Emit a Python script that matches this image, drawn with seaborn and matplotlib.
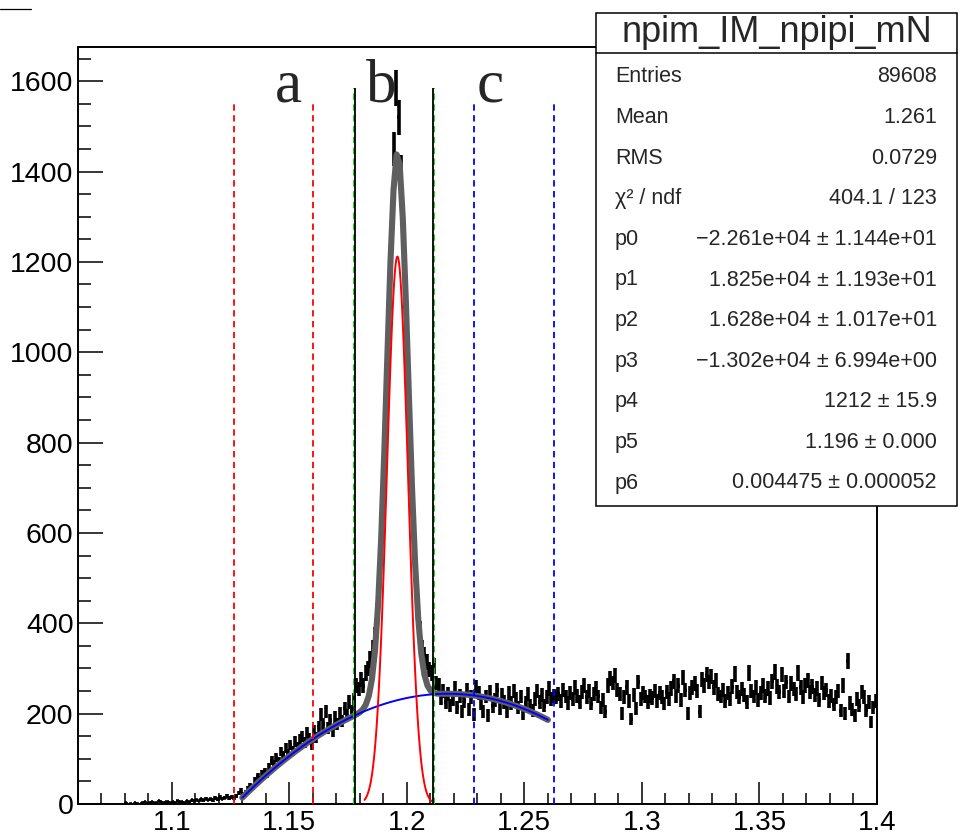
import matplotlib
matplotlib.use("Agg")
import matplotlib.pyplot as plt
from matplotlib.lines import Line2D
from matplotlib.patches import Rectangle
from matplotlib.ticker import MultipleLocator, FuncFormatter
import numpy as np
import seaborn as sns

# histogram binning: 1 MeV bins from 1.06 to 1.40
x_lo, x_hi, bin_w = 1.06, 1.40, 0.001

# bin contents, in order of increasing mass
counts_empty = [0, 0, 0, 0, 0, 0, 0, 0, 0, 0,
                0, 0, 0, 0, 0, 0, 0, 0, 0, 0]                      # 1.060-1.079
counts_low = [2, 0, 1, 0, 3, 1, 0, 2, 4, 1,
              2, 5, 3, 2, 6, 4, 3, 5, 4, 2,
              5, 3, 6, 4, 5, 3, 7, 5, 8, 6,
              9, 7, 10, 8, 12, 9, 11, 8, 13, 10,
              15, 12, 14, 17, 13, 16, 12]                           # 1.080-1.126
counts_rise = [18, 24, 30, 22, 26, 34, 40, 38, 52, 60,
               55, 68, 72, 66, 82, 96, 88, 102, 94, 116,
               108, 124, 112, 130, 118, 138, 126, 144, 150, 136,
               158, 146, 130, 162, 148, 170, 198, 176, 205, 168,
               186, 160, 192, 178, 200, 184, 212, 196, 226, 205]    # 1.127-1.176
counts_peak = [230, 262, 255, 275, 262, 290, 300, 320, 345, 372,
               425, 520, 650, 795, 960, 1125, 1290, 1450, 1585, 1520,
               1400, 1280, 1130, 970, 810, 665, 545, 450, 385, 345,
               330, 315, 298, 290, 305, 268]                        # 1.177-1.212
counts_side = [262, 235, 250, 226, 244, 218, 232, 256, 214, 240,
               205, 228, 252, 210, 236, 198, 258, 246, 222, 204,
               238, 196, 248, 216, 230, 252, 212, 242, 226, 204,
               246, 224, 250, 232, 214, 238, 200, 224, 244, 218,
               206, 232, 250, 226, 242, 218, 236, 256, 232, 240]    # 1.213-1.262
counts_tail = [236, 244, 228, 252, 238, 224, 246, 232, 258, 240,
               226, 248, 262, 236, 250, 222, 244, 256, 238, 214,
               230, 204, 262, 278, 268, 284, 252, 244, 200, 236,
               258, 228, 188, 242, 212, 270, 232, 246, 238, 226,
               240, 234, 250, 228, 246, 236, 222, 248, 232, 256,
               272, 240, 262, 230, 280, 252, 200, 246, 258, 266,
               250, 204, 276, 262, 286, 270, 282, 258, 274, 244,
               238, 252, 228, 246, 232, 260, 288, 248, 236, 254,
               242, 226, 290, 250, 238, 258, 230, 246, 262, 240,
               256, 234, 272, 292, 260, 248, 286, 250, 270, 238,
               266, 254, 244, 290, 258, 236, 262, 274, 248, 260,
               242, 256, 230, 268, 246, 252, 228, 240, 220, 236,
               250, 206, 262, 200, 316, 224, 210, 196, 232, 218,
               248, 236, 208, 226, 182, 214, 228]                   # 1.263-1.399

# fit: pol3 + gaus, parameters from the stat box
fit_pars = [-2.261e4, 1.825e4, 1.628e4, -1.302e4, 1212.0, 1.196, 0.004475]
fit_range = (1.13, 1.26)
gaus_range = (1.182, 1.2105)

# selection windows a / b / c
red_cuts = [1.1265, 1.16]
green_cuts = [1.1775, 1.2115]
black_cuts = [1.178, 1.211]
blue_cuts = [1.2285, 1.2627]
window_labels = ["a", "b", "c"]
window_label_x = [1.1496, 1.189, 1.2353]

stat_title = "npim_IM_npipi_mN"
stat_labels = ["Entries", "Mean", "RMS", "χ² / ndf", "p0", "p1", "p2",
               "p3", "p4", "p5", "p6"]
stat_values = ["89608", "1.261", "0.0729", "404.1 / 123",
               "\u22122.261e+04 ± 1.144e+01", "1.825e+04 ± 1.193e+01",
               "1.628e+04 ± 1.017e+01", "\u22121.302e+04 ± 6.994e+00",
               "1212 ± 15.9", "1.196 ± 0.000", "0.004475 ± 0.000052"]


def pol3(x, p):
    return p[0] + p[1] * x + p[2] * x ** 2 + p[3] * x ** 3


def gaus(x, p):
    return p[4] * np.exp(-0.5 * ((x - p[5]) / p[6]) ** 2)


sns.set_style("ticks")
plt.rcParams['font.family'] = ['Liberation Sans', 'DejaVu Sans']

W, H = 961, 836
fig = plt.figure(figsize=(W / 100, H / 100), dpi=100)
ax = fig.add_axes([77.7 / W, 1 - 804 / H, (877 - 77.7) / W, (804 - 47.3) / H])

counts = np.array(counts_empty + counts_low + counts_rise + counts_peak
                  + counts_side + counts_tail, dtype=float)
centers = x_lo + bin_w * (np.arange(len(counts)) + 0.5)
filled = counts > 0
ax.errorbar(centers[filled], counts[filled], yerr=np.sqrt(counts[filled]),
            xerr=bin_w / 2, fmt='none', ecolor='black', elinewidth=2.6,
            capsize=0, zorder=3)

# fit curves (ROOT draws 100 points)
xf = np.linspace(*fit_range, 100)
sns.lineplot(x=xf, y=pol3(xf, fit_pars) + gaus(xf, fit_pars), ax=ax,
             color='#5f5f5f', linewidth=4.4, zorder=4)
sns.lineplot(x=xf, y=pol3(xf, fit_pars), ax=ax, color='#0000ff',
             linewidth=1.4, zorder=5)
xg = np.linspace(*gaus_range, 100)
sns.lineplot(x=xg, y=gaus(xg, fit_pars), ax=ax, color='#ff0000',
             linewidth=1.4, zorder=5)

dash = (0, (3.5, 2.5))
ax.vlines(red_cuts, 0, 1555, colors='#ff0000', linestyles=dash, lw=1.3, zorder=6)
ax.vlines(blue_cuts, 0, 1555, colors='#0000ff', linestyles=dash, lw=1.3, zorder=6)
ax.vlines(green_cuts, 0, 1585, colors='#00dd00', linestyles=dash, lw=1.3, zorder=6)
ax.vlines(black_cuts, 0, 1585, colors='black', linestyles='-', lw=1.3, zorder=6)

for lab, xl in zip(window_labels, window_label_x):
    ax.text(xl, 1555, lab, ha='center', va='baseline', fontsize=44,
            family=['Liberation Serif', 'DejaVu Serif'], zorder=7)

ax.set_xlim(x_lo, x_hi)
ax.set_ylim(0, 1675)
ax.xaxis.set_major_locator(MultipleLocator(0.05))
ax.xaxis.set_minor_locator(MultipleLocator(0.01))
ax.yaxis.set_major_locator(MultipleLocator(200))
ax.yaxis.set_minor_locator(MultipleLocator(50))
ax.xaxis.set_major_formatter(FuncFormatter(lambda v, _: f"{round(v, 3):g}"))
ax.yaxis.set_major_formatter(FuncFormatter(lambda v, _: f"{v:.0f}"))
ax.tick_params(which='both', direction='in', width=1.1, colors='black',
               top=False, right=False, labelsize=20.5)
ax.tick_params(axis='x', which='major', length=15.8, pad=4.5, labelsize=20)
ax.tick_params(axis='x', which='minor', length=7.9)
ax.tick_params(axis='y', which='major', length=18, pad=3)
ax.tick_params(axis='y', which='minor', length=9.4)
for sp in ax.spines.values():
    sp.set_linewidth(1.4)
    sp.set_color('black')
ax.set_xlabel('')
ax.set_ylabel('')

# stray title-box edge in the top-left corner
fig.add_artist(Line2D([0, 31 / W], [1 - 9 / H, 1 - 9 / H], color='black', lw=0.9))

# stat box
bx0, bx1, by0, by1 = 596, 957, 12.5, 506
fig.add_artist(Rectangle((bx0 / W, 1 - by1 / H), (bx1 - bx0) / W, (by1 - by0) / H,
                         transform=fig.transFigure, facecolor='white',
                         edgecolor='black', lw=1.1, zorder=10))
fig.add_artist(Line2D([bx0 / W, bx1 / W], [1 - 53 / H, 1 - 53 / H], color='black',
                      lw=1.1, zorder=11))
fig.text((bx0 + bx1) / 2 / W, 1 - 33 / H, stat_title, ha='center', va='center',
         fontsize=26, zorder=12)
for i, (lab, val) in enumerate(zip(stat_labels, stat_values)):
    yy = 1 - (77 + 40.6 * i) / H
    fig.text(615 / W, yy, lab, ha='left', va='center', fontsize=15.5, zorder=12)
    fig.text(937 / W, yy, val, ha='right', va='center', fontsize=15.5, zorder=12)

fig.savefig("out.png", dpi=100)
